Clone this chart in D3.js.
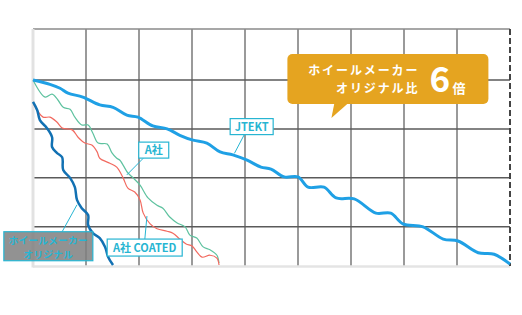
<!DOCTYPE html>
<html><head><meta charset="utf-8">
<script src="https://cdn.jsdelivr.net/npm/d3@7"></script>
<style>body{margin:0;background:#fff}svg{display:block}text{font-family:"Noto Sans CJK JP","Noto Sans",sans-serif}</style>
</head><body><svg id="c" width="522" height="315"></svg>
<script>
const xTicks=[1,2,3,4,5,6,7,8];
const yTicks=[0.8,1.8,2.8,3.8];
const jtektX=[0,0.32,0.51,0.66,0.94,1.26,1.51,1.77,1.98,2.26,2.53,2.77,3.02,3.28,3.53,3.77,4.04,4.30,4.49,4.74,5.00,5.19,5.49,5.72,6.06,6.47,6.75,6.98,7.36,7.74,8.02,8.40,8.70,9];
const jtektY=[3.80,3.71,3.63,3.53,3.45,3.29,3.24,3.08,3.04,2.86,2.80,2.67,2.57,2.51,2.33,2.27,2.16,2.02,1.98,1.82,1.82,1.61,1.61,1.39,1.37,1.08,1.08,0.86,0.80,0.55,0.51,0.27,0.24,0.04];
const aX=[0,0.23,0.36,0.47,0.57,0.70,0.79,0.92,1.04,1.13,1.23,1.40,1.49,1.58,1.64,1.79,1.89,2.02,2.17,2.34,2.45,2.58,2.72,2.87,2.96,3.09,3.21,3.34,3.47,3.51];
const aY=[3.80,3.45,3.51,3.39,3.24,3.20,3.04,2.88,2.88,2.71,2.51,2.49,2.31,2.20,2.16,1.90,1.80,1.65,1.39,1.24,1.18,1.00,0.88,0.80,0.63,0.57,0.39,0.33,0.22,0.06];
const coatX=[0.02,0.19,0.32,0.45,0.55,0.74,0.85,0.98,1.11,1.21,1.26,1.45,1.58,1.70,1.79,1.92,2.02,2.08,2.21,2.34,2.53,2.64,2.77,2.89,3.00,3.09,3.19,3.34,3.47,3.51];
const coatY=[3.29,3.04,3.04,2.94,2.82,2.78,2.63,2.51,2.47,2.33,2.20,2.10,2.02,1.80,1.59,1.51,1.35,1.08,0.86,0.76,0.71,0.67,0.55,0.45,0.41,0.29,0.18,0.22,0.16,0.02];
const origX=[0,0.08,0.13,0.26,0.36,0.36,0.45,0.55,0.57,0.70,0.79,0.83,0.92,1.04,1.04,1.13,1.26,1.36,1.42,1.51];
const origY=[3.35,3.18,2.98,2.82,2.63,2.43,2.31,2.22,1.96,1.80,1.61,1.35,1.18,1.04,0.84,0.67,0.57,0.39,0.18,0.02];
const seriesNames=["ホイールメーカーオリジナル","A社","A社 COATED","JTEKT"];
const calloutLines=["ホイールメーカー","オリジナル比"];
const calloutNum="6";
const calloutUnit="倍";

const svg=d3.select("#c");
const x=d3.scaleLinear().domain([0,9]).range([33,510]);
const y=d3.scaleLinear().domain([0,4.84]).range([266,29]);

// grid
svg.append("g").selectAll("line").data(xTicks).join("line")
 .attr("x1",d=>x(d)).attr("x2",d=>x(d)).attr("y1",y(4.84)).attr("y2",y(0))
 .attr("stroke","#9a9a9a").attr("stroke-width",2);
svg.append("g").selectAll("line").data(yTicks).join("line")
 .attr("x1",x(0)).attr("x2",x(9)).attr("y1",d=>y(d)).attr("y2",d=>y(d))
 .attr("stroke","#5a5a5a").attr("stroke-width",1.5);
svg.append("line").attr("x1",x(0)).attr("x2",x(9)).attr("y1",y(4.84)).attr("y2",y(4.84)).attr("stroke","#8a8a8a").attr("stroke-width",1.5);
svg.append("line").attr("x1",x(0)).attr("x2",x(9)).attr("y1",y(0)+0.5).attr("y2",y(0)+0.5).attr("stroke","#e4e4e4").attr("stroke-width",2.5);
svg.append("line").attr("x1",x(0)).attr("x2",x(0)).attr("y1",y(4.84)).attr("y2",y(0)+1.5).attr("stroke","#e2e2e2").attr("stroke-width",3);
svg.append("line").attr("x1",x(9)).attr("x2",x(9)).attr("y1",y(4.84)).attr("y2",y(0)).attr("stroke","#444").attr("stroke-width",2).attr("stroke-dasharray","6,3");

const line=d3.line().x(d=>x(d[0])).y(d=>y(d[1])).curve(d3.curveCatmullRom.alpha(0.5));
const series=[
 {xs:aX,ys:aY,c:"#5ec29f",w:1.2},
 {xs:coatX,ys:coatY,c:"#f26a60",w:1.2},
 {xs:origX,ys:origY,c:"#1271b3",w:2.5},
 {xs:jtektX,ys:jtektY,c:"#1fa0e5",w:3}
];
svg.append("g").selectAll("path").data(series).join("path")
 .attr("d",s=>line(d3.zip(s.xs,s.ys))).attr("fill","none")
 .attr("stroke",s=>s.c).attr("stroke-width",s=>s.w).attr("stroke-linejoin","round");

// labels
const cyan="#27b5d2";
const labels=[
 {t:["ホイールメーカー","オリジナル"],bx:-0.55,by:0.70,bw:89,bh:29,fill:"#7f7f7f",op:0.85,lx1:0.55,ly1:0.70,lx2:0.83,ly2:1.25},
 {t:["A社 COATED"],bx:1.40,by:0.55,bw:75,bh:17,fill:"#fff",op:1,lx1:2.11,ly1:0.55,lx2:2.15,ly2:1.02},
 {t:["A社"],bx:1.995,by:2.53,bw:30,bh:16,fill:"#fff",op:1,lx1:2.08,ly1:2.20,lx2:1.77,ly2:1.86},
 {t:["JTEKT"],bx:3.72,by:3.01,bw:43,bh:16,fill:"#fff",op:1,lx1:3.99,ly1:2.69,lx2:3.8,ly2:2.30}
];
const lg=svg.append("g");
labels.forEach(l=>{
 lg.append("line").attr("x1",x(l.lx1)).attr("y1",y(l.ly1)).attr("x2",x(l.lx2)).attr("y2",y(l.ly2)).attr("stroke",cyan).attr("stroke-width",1);
 const X=x(l.bx),Y=y(l.by);
 lg.append("rect").attr("x",X).attr("y",Y).attr("width",l.bw).attr("height",l.bh)
  .attr("fill",l.fill).attr("fill-opacity",l.op).attr("stroke",cyan).attr("stroke-width",1.2);
 const n=l.t.length;
 l.t.forEach((s,i)=>{
  lg.append("text").attr("text-anchor","middle").attr("fill",cyan).attr("font-weight","bold")
   .attr("font-size",n===1?11:9.6).attr("letter-spacing",n===1?0:0.3)
   .attr("x",X+l.bw/2).attr("y",Y+(n===1?l.bh/2+4:12+i*14)).text(s);
 });
});

// callout
const cg=svg.append("g");
const cx0=x(4.8),cy0=y(4.33),cw=201,ch=50;
cg.append("rect").attr("x",cx0).attr("y",cy0).attr("width",cw).attr("height",ch).attr("rx",5).attr("fill","#e5a420");
cg.append("path").attr("d",`M${cx0+47},${cy0+ch-1} L${cx0+44},${cy0+ch+14} L${cx0+61},${cy0+ch-1} Z`).attr("fill","#e5a420");
calloutLines.forEach((s,i)=>cg.append("text").attr("text-anchor","end").attr("fill","#fff").attr("font-weight","bold")
  .attr("font-size",12).attr("letter-spacing",1.9).attr("x",cx0+132).attr("y",cy0+21+i*18).text(s));
cg.append("text").attr("x",cx0+142).attr("y",cy0+38).attr("fill","#fff").attr("font-weight","bold").attr("font-size",35).attr("font-family","'Liberation Sans',Arial,sans-serif").text(calloutNum);
cg.append("text").attr("x",cx0+165).attr("y",cy0+39).attr("fill","#fff").attr("font-weight","bold").attr("font-size",13).text(calloutUnit);
</script></body></html>
